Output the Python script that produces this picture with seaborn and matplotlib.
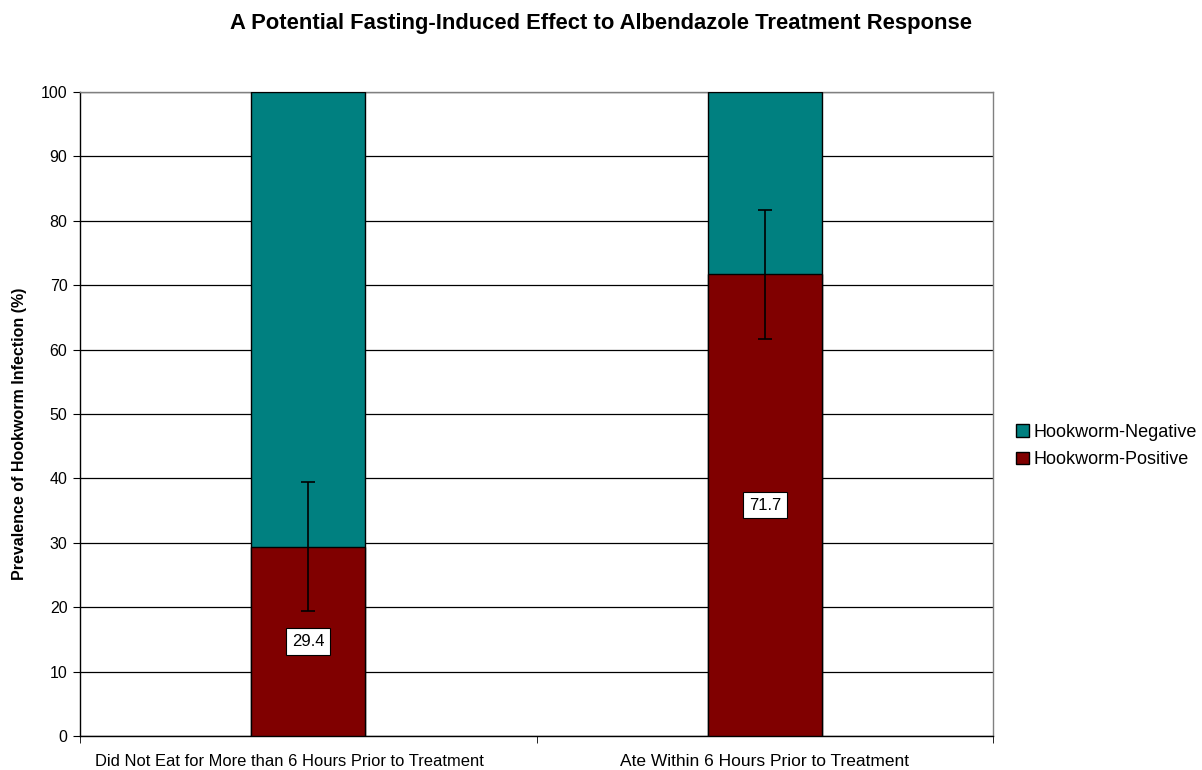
import numpy as np
import pandas as pd
import matplotlib
matplotlib.use("Agg")
import matplotlib.pyplot as plt
import matplotlib.transforms as mtransforms
import seaborn as sns
from matplotlib.patches import Patch

# data
groups = ["Did Not Eat for More than 6 Hours Prior to Treatment",
          "Ate Within 6 Hours Prior to Treatment"]
positive = [29.4, 71.7]
total = [100, 100]
err = [10, 10]

sns.set_style("white")
plt.rcParams["font.family"] = ["Liberation Sans", "DejaVu Sans"]
plt.rcParams["text.color"] = "black"

df = pd.DataFrame({"group": groups, "positive": positive, "total": total})

fig = plt.figure(figsize=(12.02, 7.70), dpi=100)
ax = fig.add_axes([80 / 1202, 1 - 736 / 770, (993 - 80) / 1202, (736 - 92) / 770])

# negative part drawn as full stack, positive part on top of it
sns.barplot(data=df, x="group", y="total", color="#008080", width=0.25,
            edgecolor="black", linewidth=1, saturation=1, ax=ax, zorder=3)
sns.barplot(data=df, x="group", y="positive", color="#800000", width=0.25,
            edgecolor="black", linewidth=1, saturation=1, ax=ax, zorder=4)

ax.errorbar(range(len(groups)), positive, yerr=err, fmt="none", ecolor="black",
            elinewidth=1.2, capsize=5, capthick=1.2, zorder=5)

for i, v in enumerate(positive):
    ax.text(i, v / 2, f"{v}", ha="center", va="center", fontsize=12, zorder=6,
            color="black",
            bbox=dict(boxstyle="square,pad=0.35", fc="white", ec="black", lw=0.8))

ax.set_xlim(-0.5, 1.5)
ax.set_ylim(0, 100)
ax.set_yticks(np.arange(0, 101, 10))
ax.yaxis.grid(True, color="black", linewidth=0.9, zorder=0)
ax.set_axisbelow(True)
ax.tick_params(axis="y", labelsize=11.5, length=5, direction="out", left=True,
               color="black", labelcolor="black", pad=4)
ax.tick_params(axis="x", which="major", labelsize=12, length=0, pad=13, labelcolor="black")
ax.set_xticks([-0.5, 0.5, 1.5], minor=True)
ax.tick_params(axis="x", which="minor", length=5, direction="out", bottom=True, color="black")
ax.set_xlabel("")
ax.set_ylabel("Prevalence of Hookworm Infection (%)", fontsize=11.5, fontweight="bold",
              color="black")
ax.yaxis.set_label_coords(-53 / 913, (736 - 434) / 644)

# first category label sits a little left of its bar in the original
lbls = ax.get_xticklabels()
lbls[0].set_transform(lbls[0].get_transform() + mtransforms.ScaledTranslation(-0.19, 0, fig.dpi_scale_trans))
lbls[0].set_fontsize(11.9)
lbls[1].set_fontsize(12.5)

for s in ["left", "bottom"]:
    ax.spines[s].set_color("black")
    ax.spines[s].set_linewidth(1)
for s in ["top", "right"]:
    ax.spines[s].set_color("#808080")
    ax.spines[s].set_linewidth(1)

fig.suptitle("A Potential Fasting-Induced Effect to Albendazole Treatment Response",
             x=0.5, y=0.983, fontsize=15.8, fontweight="bold", color="black")

handles = [Patch(facecolor="#008080", edgecolor="black", label="Hookworm-Negative"),
           Patch(facecolor="#800000", edgecolor="black", label="Hookworm-Positive")]
fig.legend(handles=handles, loc="center left", bbox_to_anchor=(1000 / 1202, 1 - 446 / 770),
           frameon=False, fontsize=13, handlelength=0.7, handleheight=0.7,
           handletextpad=0.25, labelspacing=0.6, labelcolor="black")

fig.savefig("out.png", dpi=100)
